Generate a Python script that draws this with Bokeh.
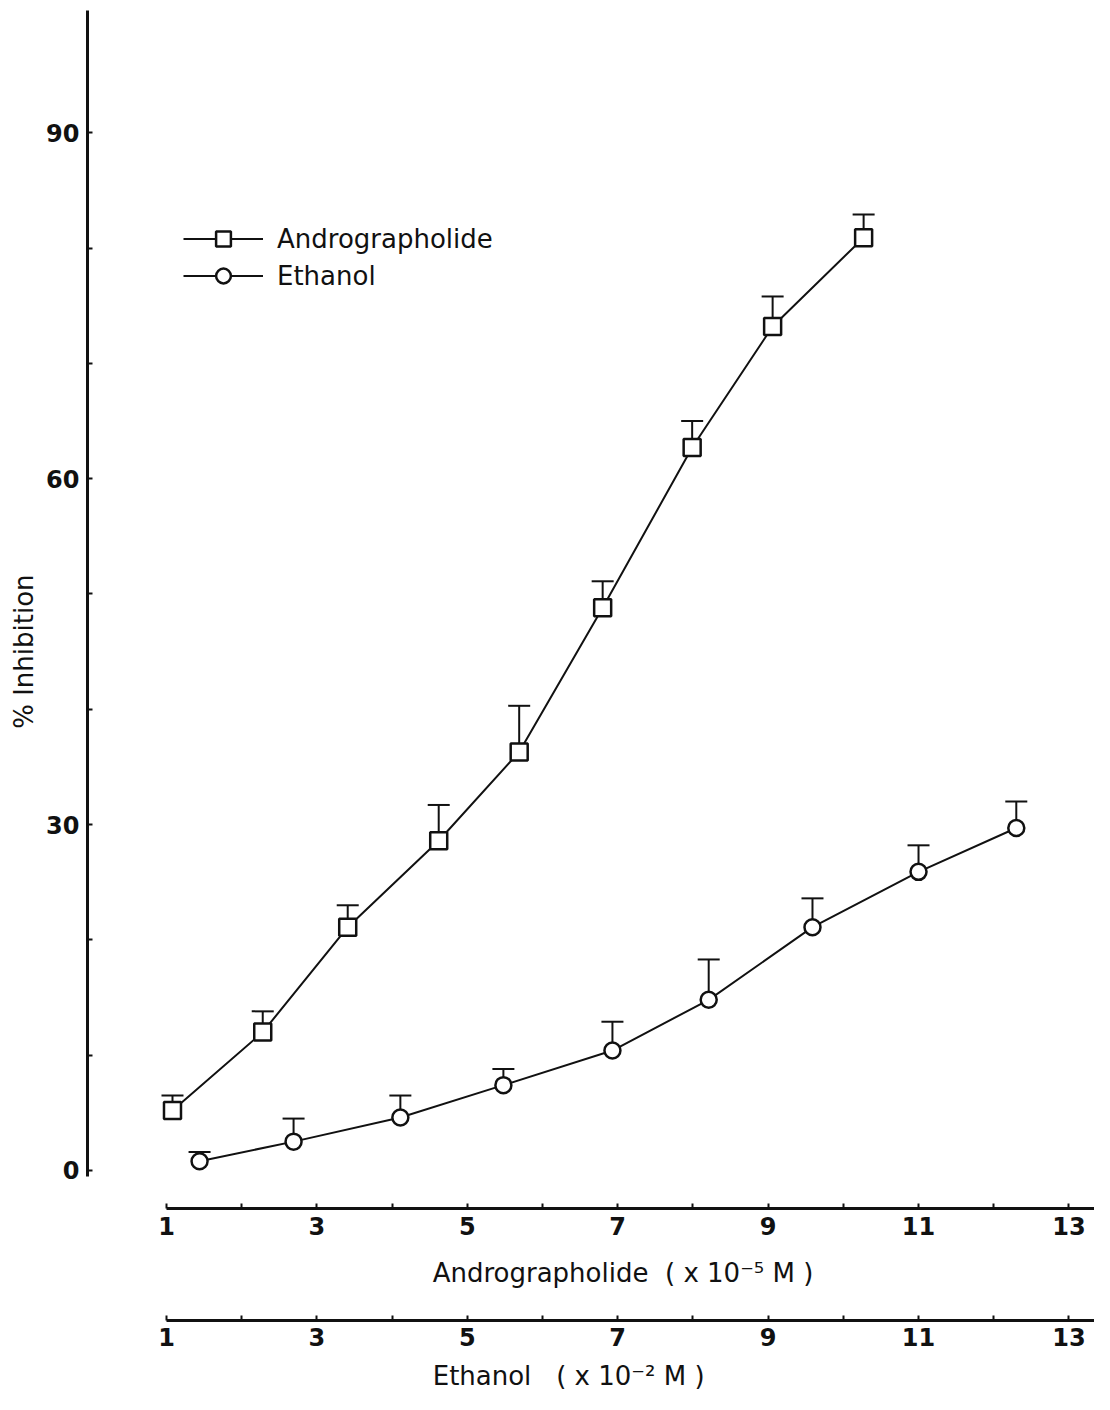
import math
from bokeh.plotting import figure
from bokeh.models import (LinearAxis, FixedTicker, Range1d, ColumnDataSource, Whisker, TeeHead,
                          Legend, LegendItem, Label)
from bokeh.embed import file_html
from bokeh.resources import INLINE

# ---- data ----
andro_x = [1.08, 2.28, 3.41, 4.62, 5.69, 6.80, 7.99, 9.06, 10.27]
andro_y = [5.2, 12.0, 21.1, 28.6, 36.3, 48.8, 62.7, 73.2, 80.9]
andro_err_top = [6.5, 13.8, 23.0, 31.7, 40.3, 51.1, 65.0, 75.8, 82.9]

eth_x = [1.44, 2.69, 4.11, 5.48, 6.93, 8.21, 9.59, 11.0, 12.30]
eth_y = [0.8, 2.5, 4.6, 7.4, 10.4, 14.8, 21.1, 25.9, 29.7]
eth_err_top = [1.6, 4.5, 6.5, 8.8, 12.9, 18.3, 23.6, 28.2, 32.0]

y_ticks = [0, 30, 60, 90]
y_minor = [10, 20, 40, 50, 70, 80]
x_ticks = [1, 3, 5, 7, 9, 11, 13]
x_minor = [2, 4, 6, 8, 10, 12]

series_names = ["Andrographolide", "Ethanol"]
y_title = "% Inhibition"
x_title_1 = "Andrographolide\u00a0\u00a0( x 10\u207b\u2075 M )"
x_title_2 = "Ethanol\u00a0\u00a0\u00a0( x 10\u207b\u00b2 M )"

FONT = "DejaVu Sans"
INK = "#111111"

# the frame covers the whole canvas; axes are placed at fixed data locations
p = figure(width=1094, height=1394,
           x_range=Range1d(-1.207, 13.34), y_range=Range1d(-19.43, 101.47),
           x_axis_type=None, y_axis_type=None,
           toolbar_location=None, output_backend="svg", min_border=0)
p.outline_line_color = None
p.background_fill_color = "white"
p.border_fill_color = "white"

AXIS_STYLE = dict(axis_line_width=3, axis_line_color=INK,
                  major_tick_in=5, major_tick_out=0, minor_tick_in=5, minor_tick_out=0,
                  major_tick_line_width=2, minor_tick_line_width=2,
                  major_tick_line_color=INK, minor_tick_line_color=INK,
                  major_label_standoff=8, major_label_text_font=FONT,
                  major_label_text_font_size="24px", major_label_text_font_style="bold",
                  major_label_text_color=INK)

# y axis
yax = LinearAxis(ticker=FixedTicker(ticks=y_ticks, minor_ticks=y_minor), bounds=(-0.5, 100.6),
                 fixed_location=-0.05, **AXIS_STYLE)
p.add_layout(yax, "left")

# two stacked x axes (Andrographolide and Ethanol concentrations)
xax1 = LinearAxis(ticker=FixedTicker(ticks=x_ticks, minor_ticks=x_minor), bounds=(1, 13.34),
                  fixed_location=-3.30, **AXIS_STYLE)
xax2 = LinearAxis(ticker=FixedTicker(ticks=x_ticks, minor_ticks=x_minor), bounds=(1, 13.34),
                  fixed_location=-13.01, **AXIS_STYLE)
p.add_layout(xax1, "below")
p.add_layout(xax2, "below")

src_a = ColumnDataSource(dict(x=andro_x, y=andro_y, top=andro_err_top))
src_e = ColumnDataSource(dict(x=eth_x, y=eth_y, top=eth_err_top))

for src in (src_a, src_e):
    w = Whisker(base="x", lower="y", upper="top", source=src, line_width=2, line_color=INK,
                upper_head=TeeHead(size=22, line_width=2, line_color=INK), lower_head=None,
                level="underlay")
    p.add_layout(w)

la = p.line("x", "y", source=src_a, line_width=2, line_color=INK)
sa = p.scatter("x", "y", source=src_a, marker="square", size=17, fill_color="white",
               line_color=INK, line_width=2.5)
le = p.line("x", "y", source=src_e, line_width=2, line_color=INK)
se = p.scatter("x", "y", source=src_e, marker="circle", size=16, fill_color="white",
               line_color=INK, line_width=2.5)

legend = Legend(items=[LegendItem(label=series_names[0], renderers=[la, sa]),
                       LegendItem(label=series_names[1], renderers=[le, se])],
                location=(183, 1100), glyph_width=80, glyph_height=37, label_standoff=14,
                spacing=0, padding=0, margin=0, border_line_color=None,
                background_fill_alpha=0, label_text_font=FONT, label_text_font_size="26px",
                label_text_color=INK)
p.add_layout(legend)

p.add_layout(Label(x=-0.90, y=45, text=y_title, angle=math.pi / 2, text_align="center",
                   text_baseline="middle", text_font=FONT, text_font_size="26px",
                   text_color=INK))
p.add_layout(Label(x=4.54, y=-8.93, text=x_title_1, text_align="left", text_baseline="middle",
                   text_font=FONT, text_font_size="26px", text_color=INK))
p.add_layout(Label(x=4.54, y=-17.85, text=x_title_2, text_align="left", text_baseline="middle",
                   text_font=FONT, text_font_size="26px", text_color=INK))

open("out.html", "w").write(file_html(p, INLINE))
